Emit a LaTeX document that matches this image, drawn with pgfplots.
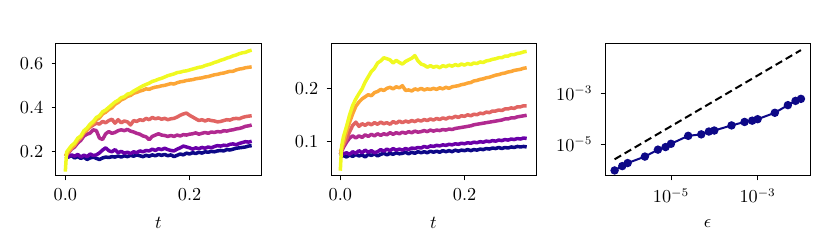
\documentclass[border=0pt]{standalone}
\usepackage{pgfplots}
\usepackage{pgfplotstable}
\pgfplotsset{compat=1.18}
\definecolor{pl0}{HTML}{0D0887}
\definecolor{pl1}{HTML}{6A00A8}
\definecolor{pl2}{HTML}{B12A90}
\definecolor{pl3}{HTML}{E16462}
\definecolor{pl4}{HTML}{FCA636}
\definecolor{pl5}{HTML}{F0F921}
\newcommand\fs{\fontsize{10.6}{12}\selectfont}
\pgfplotsset{
  panel/.style={scale only axis,width=123pt,height=79.2pt,anchor=south west,
    tick pos=left,tick align=outside,major tick length=2.6pt,axis line style={line width=0.6pt},
    every tick/.style={black,line width=0.5pt},tick label style={font=\fs},
    xticklabel style={yshift=-1.5pt},yticklabel style={xshift=-1.5pt},
    label style={font=\fs},xlabel style={yshift=-3pt}},
  tser/.style={panel,xmin=-0.015,xmax=0.315,xtick={0,0.2},xlabel={$t$},
    xticklabel style={/pgf/number format/.cd,fixed,fixed zerofill,precision=1},
    yticklabel style={/pgf/number format/.cd,fixed,precision=1},
    every axis plot/.append style={line width=2.1pt,line join=round}},
}
% t, navy ... yellow
\pgfplotstableread{
t nv pu mg sa or ye
0.000 0.180 0.182 0.180 0.180 0.180 0.110
0.002 0.178 0.185 0.185 0.186 0.188 0.198
0.005 0.176 0.178 0.195 0.198 0.200 0.210
0.010 0.183 0.186 0.212 0.215 0.218 0.228
0.015 0.172 0.180 0.222 0.232 0.230 0.240
0.020 0.178 0.188 0.240 0.250 0.252 0.262
0.025 0.170 0.176 0.252 0.266 0.265 0.272
0.030 0.176 0.185 0.272 0.285 0.288 0.296
0.035 0.165 0.178 0.280 0.300 0.298 0.308
0.040 0.172 0.190 0.285 0.312 0.318 0.326
0.045 0.176 0.183 0.300 0.322 0.330 0.338
0.050 0.170 0.186 0.296 0.330 0.346 0.356
0.055 0.165 0.195 0.262 0.326 0.354 0.364
0.060 0.172 0.208 0.256 0.338 0.372 0.382
0.065 0.176 0.218 0.282 0.332 0.380 0.390
0.070 0.174 0.205 0.292 0.342 0.392 0.402
0.075 0.178 0.200 0.284 0.348 0.400 0.414
0.080 0.176 0.210 0.288 0.330 0.416 0.426
0.085 0.181 0.196 0.296 0.346 0.424 0.434
0.090 0.176 0.202 0.300 0.332 0.436 0.446
0.095 0.182 0.194 0.296 0.340 0.442 0.450
0.100 0.178 0.198 0.302 0.336 0.452 0.462
0.105 0.184 0.192 0.294 0.322 0.456 0.466
0.110 0.180 0.200 0.290 0.342 0.466 0.476
0.115 0.186 0.196 0.284 0.338 0.470 0.484
0.120 0.182 0.204 0.280 0.346 0.476 0.492
0.125 0.178 0.200 0.272 0.342 0.480 0.500
0.130 0.184 0.206 0.268 0.352 0.486 0.506
0.135 0.180 0.204 0.255 0.346 0.484 0.512
0.140 0.186 0.212 0.270 0.356 0.490 0.520
0.145 0.182 0.206 0.276 0.350 0.494 0.524
0.150 0.188 0.214 0.282 0.354 0.496 0.530
0.155 0.184 0.210 0.276 0.348 0.500 0.534
0.160 0.188 0.216 0.274 0.352 0.502 0.540
0.165 0.182 0.210 0.270 0.346 0.506 0.546
0.170 0.186 0.206 0.274 0.350 0.510 0.550
0.175 0.178 0.204 0.270 0.352 0.508 0.554
0.180 0.184 0.212 0.276 0.358 0.514 0.560
0.185 0.190 0.218 0.272 0.366 0.518 0.562
0.190 0.186 0.226 0.278 0.372 0.520 0.566
0.195 0.194 0.222 0.276 0.376 0.524 0.568
0.200 0.190 0.218 0.280 0.366 0.526 0.572
0.205 0.196 0.212 0.282 0.358 0.528 0.576
0.210 0.192 0.218 0.286 0.350 0.532 0.580
0.215 0.198 0.214 0.280 0.342 0.534 0.584
0.220 0.194 0.220 0.284 0.346 0.536 0.586
0.225 0.200 0.216 0.288 0.340 0.540 0.592
0.230 0.198 0.222 0.284 0.346 0.542 0.596
0.235 0.202 0.218 0.290 0.342 0.546 0.600
0.240 0.200 0.224 0.288 0.340 0.550 0.606
0.245 0.204 0.228 0.292 0.336 0.552 0.610
0.250 0.206 0.226 0.290 0.338 0.556 0.616
0.255 0.204 0.230 0.296 0.342 0.558 0.620
0.260 0.210 0.228 0.294 0.346 0.562 0.626
0.265 0.208 0.234 0.298 0.344 0.566 0.630
0.270 0.212 0.236 0.300 0.350 0.566 0.636
0.275 0.216 0.232 0.304 0.352 0.572 0.640
0.280 0.218 0.238 0.306 0.350 0.576 0.646
0.285 0.220 0.242 0.310 0.356 0.578 0.650
0.290 0.222 0.246 0.316 0.360 0.582 0.652
0.295 0.226 0.244 0.318 0.362 0.584 0.658
0.300 0.228 0.248 0.322 0.364 0.586 0.662
}\tabA
\pgfplotstableread{
t nv pu mg sa or ye
0.000 0.070 0.072 0.075 0.075 0.080 0.044
0.002 0.071 0.074 0.080 0.082 0.085 0.090
0.005 0.073 0.076 0.088 0.092 0.096 0.108
0.010 0.070 0.078 0.098 0.104 0.118 0.128
0.015 0.074 0.075 0.106 0.118 0.136 0.150
0.020 0.071 0.080 0.110 0.130 0.152 0.168
0.025 0.075 0.077 0.106 0.136 0.166 0.180
0.030 0.072 0.082 0.110 0.128 0.174 0.190
0.035 0.074 0.078 0.107 0.133 0.180 0.199
0.040 0.070 0.083 0.112 0.130 0.184 0.212
0.045 0.075 0.079 0.109 0.134 0.188 0.222
0.050 0.073 0.082 0.113 0.131 0.186 0.232
0.055 0.076 0.078 0.110 0.135 0.192 0.238
0.060 0.072 0.080 0.114 0.132 0.194 0.248
0.065 0.075 0.084 0.111 0.136 0.198 0.252
0.070 0.077 0.081 0.114 0.133 0.196 0.258
0.075 0.074 0.085 0.112 0.135 0.200 0.256
0.080 0.077 0.082 0.116 0.132 0.202 0.254
0.085 0.075 0.086 0.113 0.137 0.199 0.248
0.090 0.078 0.083 0.116 0.134 0.203 0.253
0.095 0.076 0.085 0.114 0.138 0.201 0.249
0.100 0.077 0.083 0.117 0.135 0.205 0.246
0.105 0.079 0.086 0.115 0.138 0.196 0.251
0.110 0.076 0.084 0.118 0.136 0.197 0.254
0.115 0.079 0.087 0.116 0.139 0.195 0.257
0.120 0.077 0.086 0.119 0.137 0.199 0.262
0.125 0.080 0.088 0.117 0.140 0.197 0.252
0.130 0.078 0.087 0.118 0.138 0.200 0.246
0.135 0.080 0.090 0.120 0.141 0.197 0.244
0.140 0.078 0.088 0.118 0.139 0.199 0.240
0.145 0.081 0.091 0.121 0.142 0.198 0.243
0.150 0.079 0.090 0.119 0.140 0.200 0.240
0.155 0.081 0.092 0.121 0.143 0.198 0.242
0.160 0.079 0.091 0.120 0.141 0.201 0.239
0.165 0.082 0.093 0.122 0.144 0.199 0.243
0.170 0.080 0.092 0.121 0.142 0.202 0.241
0.175 0.082 0.094 0.123 0.145 0.200 0.244
0.180 0.080 0.093 0.122 0.144 0.203 0.242
0.185 0.083 0.095 0.124 0.147 0.204 0.245
0.190 0.081 0.094 0.125 0.145 0.205 0.243
0.195 0.083 0.096 0.126 0.148 0.207 0.246
0.200 0.082 0.095 0.127 0.147 0.208 0.244
0.205 0.084 0.097 0.128 0.150 0.210 0.247
0.210 0.082 0.096 0.129 0.148 0.211 0.245
0.215 0.084 0.098 0.131 0.151 0.214 0.248
0.220 0.083 0.097 0.132 0.150 0.215 0.247
0.225 0.085 0.099 0.133 0.153 0.217 0.250
0.230 0.084 0.098 0.134 0.152 0.218 0.249
0.235 0.086 0.100 0.135 0.155 0.220 0.252
0.240 0.085 0.099 0.136 0.154 0.221 0.253
0.245 0.087 0.101 0.137 0.157 0.223 0.255
0.250 0.086 0.100 0.138 0.157 0.225 0.256
0.255 0.088 0.102 0.139 0.159 0.226 0.258
0.260 0.086 0.101 0.140 0.158 0.228 0.258
0.265 0.088 0.103 0.142 0.161 0.229 0.261
0.270 0.087 0.102 0.142 0.161 0.231 0.261
0.275 0.089 0.104 0.144 0.163 0.232 0.264
0.280 0.088 0.103 0.144 0.162 0.234 0.264
0.285 0.090 0.105 0.146 0.165 0.235 0.266
0.290 0.089 0.104 0.147 0.165 0.236 0.267
0.295 0.090 0.106 0.148 0.167 0.238 0.269
0.300 0.089 0.105 0.149 0.167 0.239 0.270
}\tabB
\pgfplotstableread{
eps err ref
5e-7 9.1e-7 2.5e-6
7.5e-7 1.35e-6 3.75e-6
1e-6 1.78e-6 5e-6
2.5e-6 3.2e-6 1.25e-5
5e-6 6.0e-6 2.5e-5
7.5e-6 7.6e-6 3.75e-5
1e-5 1.02e-5 5e-5
2.5e-5 2.1e-5 1.25e-4
5e-5 2.4e-5 2.5e-4
7.5e-5 3.1e-5 3.75e-4
1e-4 3.4e-5 5e-4
2.5e-4 5.4e-5 1.25e-3
5e-4 7.4e-5 2.5e-3
7.5e-4 8.3e-5 3.75e-3
1e-3 9.5e-5 5e-3
2.5e-3 1.7e-4 1.25e-2
5e-3 3.4e-4 2.5e-2
7.5e-3 5.0e-4 3.75e-2
1e-2 6.0e-4 5e-2
}\tabC
\begin{document}
\begin{tikzpicture}
\useasboundingbox (0,0) rectangle (498pt,149.4pt);
\begin{axis}[tser,at={(33.6pt,43.8pt)},ymin=0.09,ymax=0.69,ytick={0.2,0.4,0.6}]
\addplot[pl0] table[x=t,y=nv] {\tabA};
\addplot[pl1] table[x=t,y=pu] {\tabA};
\addplot[pl2] table[x=t,y=mg] {\tabA};
\addplot[pl3] table[x=t,y=sa] {\tabA};
\addplot[pl4] table[x=t,y=or] {\tabA};
\addplot[pl5] table[x=t,y=ye] {\tabA};
\end{axis}
\begin{axis}[tser,at={(198.6pt,43.8pt)},ymin=0.034,ymax=0.284,ytick={0.1,0.2}]
\addplot[pl0] table[x=t,y=nv] {\tabB};
\addplot[pl1] table[x=t,y=pu] {\tabB};
\addplot[pl2] table[x=t,y=mg] {\tabB};
\addplot[pl3] table[x=t,y=sa] {\tabB};
\addplot[pl4] table[x=t,y=or] {\tabB};
\addplot[pl5] table[x=t,y=ye] {\tabB};
\end{axis}
\begin{axis}[panel,at={(363pt,43.8pt)},xmode=log,ymode=log,
  xmin=3.0e-7,xmax=1.62e-2,ymin=5.5e-7,ymax=8.7e-2,
  xtick={1e-5,1e-3},ytick={1e-5,1e-3},minor xtick={},minor ytick={},
  xlabel={$\epsilon$}]
\addplot[black,line width=1.2pt,dash pattern=on 4.5pt off 2.5pt] table[x=eps,y=ref] {\tabC};
\addplot[pl0,line width=1.2pt,mark=*,mark size=1.9pt] table[x=eps,y=err] {\tabC};
\end{axis}
\end{tikzpicture}
\end{document}
